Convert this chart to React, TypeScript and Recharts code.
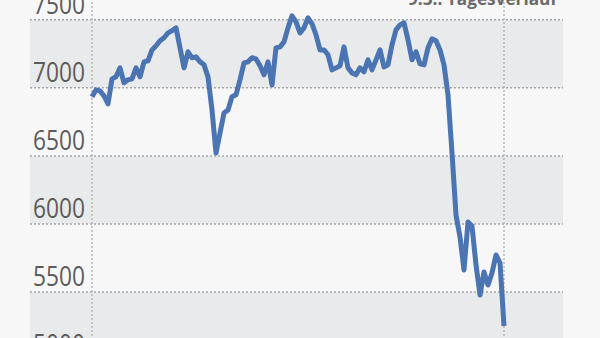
import React from "react";
import {
  LineChart,
  Line,
  XAxis,
  YAxis,
  CartesianGrid,
  ReferenceLine,
} from "recharts";

// index closing values (one point per step)
const closes = [
  6934, 6985, 6978, 6941, 6882, 7066, 7081, 7147, 7037, 7059,
  7066, 7147, 7081, 7191, 7199, 7279, 7309, 7346, 7368, 7404,
  7419, 7441, 7294, 7147, 7265, 7221, 7228, 7191, 7169, 7081,
  6838, 6522, 6669, 6816, 6838, 6934, 6949, 7059, 7184, 7191,
  7221, 7213, 7162, 7096, 7191, 7022, 7294, 7301, 7338, 7441,
  7529, 7485, 7404, 7441, 7515, 7471, 7390, 7279, 7279, 7243,
  7132, 7147, 7162, 7301, 7147, 7110, 7096, 7147, 7118, 7206,
  7132, 7206, 7279, 7154, 7169, 7316, 7426, 7463, 7478, 7353,
  7206, 7265, 7176, 7169, 7294, 7360, 7346, 7279, 7169, 6949,
  6522, 6066, 5904, 5662, 6015, 5985, 5699, 5478, 5647, 5551,
  5640, 5772, 5713, 5250,
];

const yTicks = [5000, 5500, 6000, 6500, 7000, 7500];
const title = "9.3.: Tagesverlauf";

const data = closes.map((v, i) => ({ i, v }));

const FONT = '"Liberation Sans Narrow", "Open Sans", Arial, sans-serif';

// the original uses a condensed face, so squeeze the labels a bit
const TickLabel = ({ y, payload }: { y?: number; payload?: { value: number } }) => (
  <text
    x={85}
    y={(y || 0) - 6}
    textAnchor="end"
    fill="#5b5b5b"
    fontSize={28}
    fontFamily={FONT}
    textLength={52}
    lengthAdjust="spacingAndGlyphs"
  >
    {payload?.value}
  </text>
);

export default function App() {
  return (
    <div
      style={{
        width: 600,
        height: 338,
        overflow: "hidden",
        position: "relative",
        background: "#f7f7f7",
      }}
    >
      <style>{"body{margin:0}"}</style>
      <div style={{ position: "absolute", left: 0, top: -40 }}>
        <LineChart
          width={600}
          height={410}
          data={data}
          margin={{ top: 19, right: 37, bottom: 10, left: 0 }}
        >
          <CartesianGrid
            vertical={false}
            stroke="#a4a6a8"
            strokeDasharray="2 2"
            strokeWidth={1.5}
            horizontalFill={["#f7f7f7", "#e8eaeb"]}
            fillOpacity={1}
          />
          <XAxis
            type="number"
            dataKey="i"
            domain={["dataMin", "dataMax"]}
            padding={{ left: 62, right: 59 }}
            hide
          />
          <YAxis
            domain={[5000, 7800]}
            ticks={yTicks}
            width={30}
            axisLine={false}
            tickLine={false}
            tick={<TickLabel />}
            interval={0}
            allowDataOverflow
          />
          <ReferenceLine x={0} stroke="#b4b6b8" strokeDasharray="2 2" strokeWidth={1.5} />
          <ReferenceLine
            x={closes.length - 1}
            stroke="#b4b6b8"
            strokeDasharray="2 2"
            strokeWidth={1.5}
          />
          <Line
            type="linear"
            dataKey="v"
            stroke="#4a74b2"
            strokeWidth={5}
            strokeLinejoin="round"
            dot={false}
            isAnimationActive={false}
          />
        </LineChart>
      </div>
      <svg
        width={600}
        height={30}
        style={{ position: "absolute", left: 0, top: 0 }}
      >
        <text
          x={557}
          y={5}
          textAnchor="end"
          fill="#6a6a6a"
          fontSize={18}
          fontWeight="bold"
          fontFamily={FONT}
          textLength={149}
          lengthAdjust="spacingAndGlyphs"
        >
          {title}
        </text>
      </svg>
    </div>
  );
}
